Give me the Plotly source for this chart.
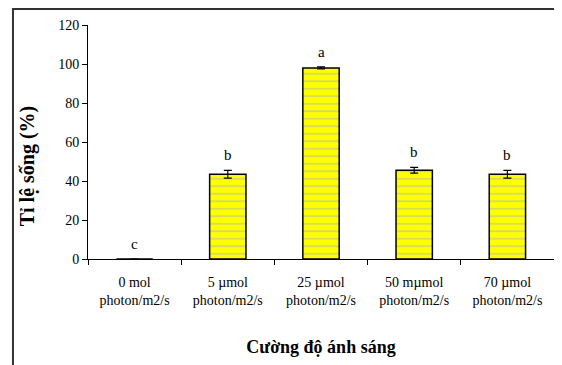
import plotly.graph_objects as go

categories = ["0 mol<br>photon/m2/s", "5 µmol<br>photon/m2/s", "25 µmol<br>photon/m2/s",
              "50 mµmol<br>photon/m2/s", "70 µmol<br>photon/m2/s"]
survival = [0, 43.5, 98, 45.5, 43.5]
errors = [0, 2, 0.5, 1.5, 2]
letters = ["c", "b", "a", "b", "b"]

FONT = "Liberation Serif, Times New Roman, serif"

fig = go.Figure()
fig.add_trace(go.Bar(
    x=categories, y=survival,
    width=0.39,
    marker=dict(color="#FFFF00", line=dict(color="black", width=1.5),
                pattern=dict(shape="-", fgcolor="#A8AECF", bgcolor="#FFFF00",
                             size=7.5, solidity=0.22)),
    error_y=dict(type="data", array=errors, visible=True, color="black",
                 thickness=1.2, width=4),
    showlegend=False,
))

for c, v, e, t in zip(categories, survival, errors, letters):
    fig.add_annotation(x=c, y=v + e, text=t, showarrow=False, yshift=15,
                       font=dict(family=FONT, size=15, color="black"))

fig.add_annotation(xref="paper", yref="paper", x=-0.129, y=0.40,
                   xanchor="center", yanchor="middle",
                   text="<b>Tỉ lệ sống (%)</b>", textangle=-90, showarrow=False,
                   font=dict(family=FONT, size=20, color="black"))

fig.add_shape(type="rect", xref="paper", yref="paper",
              x0=-0.161, x1=1.015, y0=-0.6, y1=1.068,
              line=dict(color="#333333", width=2), fillcolor="rgba(0,0,0,0)")

# page body has an 8px default margin, so the figure is sized to fill the rest
fig.update_layout(
    width=554, height=357,
    margin=dict(l=80, r=8, t=17, b=106),
    paper_bgcolor="white", plot_bgcolor="white",
    font=dict(family=FONT, size=14, color="black"),
    xaxis=dict(
        showline=True, linecolor="black", linewidth=1.2,
        ticks="outside", tickson="boundaries", ticklen=5, tickcolor="black",
        tickfont=dict(family=FONT, size=14), ticklabelstandoff=10,
        title=dict(text="<b>Cường độ ánh sáng</b>", font=dict(family=FONT, size=18), standoff=33),
        showgrid=False,
    ),
    yaxis=dict(
        range=[0, 120], dtick=20, showline=True, linecolor="black", linewidth=1,
        ticks="outside", ticklen=5, tickcolor="black",
        tickfont=dict(family=FONT, size=14),
        showgrid=False, zeroline=False,
    ),
)

fig.write_html("out.html")
